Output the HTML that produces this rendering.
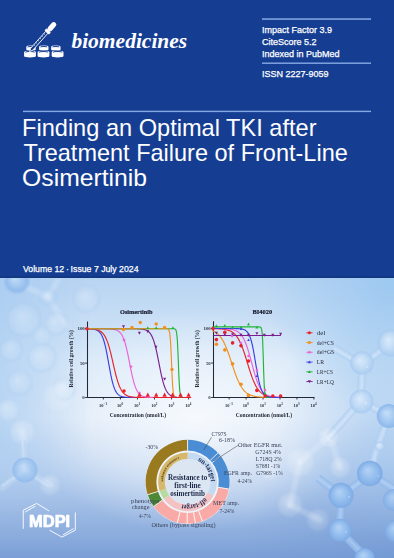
<!DOCTYPE html>
<html><head><meta charset="utf-8"><style>
html,body{margin:0;padding:0;width:394px;height:558px;overflow:hidden;background:#153e93;}
svg{display:block;}
text{font-family:"Liberation Sans",sans-serif;}
</style></head><body>
<svg width="394" height="558" viewBox="0 0 394 558">
<defs>

<linearGradient id="bgv" x1="0" y1="0" x2="0" y2="1">
<stop offset="0" stop-color="#b8d4f2"/>
<stop offset="0.3" stop-color="#d6e7f8"/>
<stop offset="0.5" stop-color="#dbe8f7"/>
<stop offset="0.72" stop-color="#b3cced"/>
<stop offset="1" stop-color="#7b9fd6"/>
</linearGradient>
<radialGradient id="bgw" gradientUnits="userSpaceOnUse" cx="195" cy="420" r="150" gradientTransform="translate(195 420) scale(1.15 0.75) translate(-195 -420)">
<stop offset="0" stop-color="#ffffff" stop-opacity="0.75"/>
<stop offset="0.6" stop-color="#ffffff" stop-opacity="0.35"/>
<stop offset="1" stop-color="#ffffff" stop-opacity="0"/>
</radialGradient>
<radialGradient id="bgtr" gradientUnits="userSpaceOnUse" cx="394" cy="285" r="130">
<stop offset="0" stop-color="#98c6f0" stop-opacity="0.85"/>
<stop offset="1" stop-color="#98c6f0" stop-opacity="0"/>
</radialGradient>
<linearGradient id="bgl" gradientUnits="userSpaceOnUse" x1="0" y1="0" x2="90" y2="0">
<stop offset="0" stop-color="#a2c8f0" stop-opacity="0.6"/>
<stop offset="1" stop-color="#a2c8f0" stop-opacity="0"/>
</linearGradient>
<linearGradient id="bglv" x1="0" y1="0" x2="0" y2="1">
<stop offset="0" stop-color="#fff" stop-opacity="1"/>
<stop offset="0.7" stop-color="#fff" stop-opacity="1"/>
<stop offset="1" stop-color="#fff" stop-opacity="0"/>
</linearGradient>
<mask id="mlv"><rect x="0" y="277" width="90" height="240" fill="url(#bglv)"/></mask>
<radialGradient id="bgrm" gradientUnits="userSpaceOnUse" cx="394" cy="420" r="120">
<stop offset="0" stop-color="#9fc6ef" stop-opacity="0.55"/>
<stop offset="1" stop-color="#9fc6ef" stop-opacity="0"/>
</radialGradient>
<radialGradient id="bgbr" gradientUnits="userSpaceOnUse" cx="394" cy="558" r="150">
<stop offset="0" stop-color="#6a94d2" stop-opacity="0.4"/>
<stop offset="1" stop-color="#6a94d2" stop-opacity="0"/>
</radialGradient>
<radialGradient id="sph" cx="0.5" cy="0.5" r="0.5" fx="0.4" fy="0.36">
<stop offset="0" stop-color="#c6dff8"/>
<stop offset="0.6" stop-color="#a0c6f0"/>
<stop offset="1" stop-color="#86b4ea"/>
</radialGradient>
<radialGradient id="sphd" cx="0.5" cy="0.5" r="0.5" fx="0.42" fy="0.36">
<stop offset="0" stop-color="#b4d3f5"/>
<stop offset="0.55" stop-color="#96bfee"/>
<stop offset="0.9" stop-color="#84b0e8"/>
<stop offset="1" stop-color="#7ea9e2"/>
</radialGradient>
<radialGradient id="sphl" cx="0.5" cy="0.5" r="0.5" fx="0.4" fy="0.36">
<stop offset="0" stop-color="#deecfb"/>
<stop offset="0.6" stop-color="#c0daf5"/>
<stop offset="1" stop-color="#a6c9f0"/>
</radialGradient>
<radialGradient id="sphf" cx="0.5" cy="0.5" r="0.5" fx="0.38" fy="0.34">
<stop offset="0" stop-color="#ffffff" stop-opacity="0.35"/>
<stop offset="1" stop-color="#ffffff" stop-opacity="0.12"/>
</radialGradient>
<radialGradient id="sphg" cx="0.5" cy="0.5" r="0.5" fx="0.42" fy="0.38">
<stop offset="0" stop-color="#ffffff" stop-opacity="0.28"/>
<stop offset="0.75" stop-color="#d6e8fa" stop-opacity="0.18"/>
<stop offset="0.93" stop-color="#9cc4ee" stop-opacity="0.3"/>
<stop offset="1" stop-color="#9cc4ee" stop-opacity="0"/>
</radialGradient>
<filter id="blur1" x="-20%" y="-20%" width="140%" height="140%"><feGaussianBlur stdDeviation="0.7"/></filter>
<filter id="blur2" x="-20%" y="-20%" width="140%" height="140%"><feGaussianBlur stdDeviation="1.2"/></filter>
<linearGradient id="bd1" gradientUnits="userSpaceOnUse" x1="378.88" y1="356.92" x2="374.12" y2="350.48"><stop offset="0" stop-color="#a9cbf0"/><stop offset="0.45" stop-color="#d6e7f9"/><stop offset="1" stop-color="#a9cbf0"/></linearGradient>
<linearGradient id="bd2" gradientUnits="userSpaceOnUse" x1="365.45" y1="382.82" x2="357.45" y2="382.58"><stop offset="0" stop-color="#a9cbf0"/><stop offset="0.45" stop-color="#d6e7f9"/><stop offset="1" stop-color="#a9cbf0"/></linearGradient>
<linearGradient id="bd3" gradientUnits="userSpaceOnUse" x1="376.74" y1="404.98" x2="372.96" y2="412.02"><stop offset="0" stop-color="#a9cbf0"/><stop offset="0.45" stop-color="#d6e7f9"/><stop offset="1" stop-color="#a9cbf0"/></linearGradient>
<linearGradient id="bd4" gradientUnits="userSpaceOnUse" x1="347.75" y1="421.90" x2="341.75" y2="416.60"><stop offset="0" stop-color="#a9cbf0"/><stop offset="0.45" stop-color="#d6e7f9"/><stop offset="1" stop-color="#a9cbf0"/></linearGradient>
<linearGradient id="bd5" gradientUnits="userSpaceOnUse" x1="345.98" y1="359.65" x2="350.02" y2="352.75"><stop offset="0" stop-color="#a9cbf0"/><stop offset="0.45" stop-color="#d6e7f9"/><stop offset="1" stop-color="#a9cbf0"/></linearGradient>
<linearGradient id="bd6" gradientUnits="userSpaceOnUse" x1="386.14" y1="434.41" x2="378.66" y2="431.59"><stop offset="0" stop-color="#a9cbf0"/><stop offset="0.45" stop-color="#d6e7f9"/><stop offset="1" stop-color="#a9cbf0"/></linearGradient>
<linearGradient id="bd7" gradientUnits="userSpaceOnUse" x1="377.10" y1="463.00" x2="369.30" y2="461.20"><stop offset="0" stop-color="#a9cbf0"/><stop offset="0.45" stop-color="#d6e7f9"/><stop offset="1" stop-color="#a9cbf0"/></linearGradient>
<linearGradient id="bd8" gradientUnits="userSpaceOnUse" x1="358.21" y1="488.08" x2="353.49" y2="481.62"><stop offset="0" stop-color="#8db6ea"/><stop offset="0.45" stop-color="#b4d3f5"/><stop offset="1" stop-color="#8db6ea"/></linearGradient>
<linearGradient id="bd9" gradientUnits="userSpaceOnUse" x1="344.34" y1="513.17" x2="336.36" y2="512.73"><stop offset="0" stop-color="#8db6ea"/><stop offset="0.45" stop-color="#b4d3f5"/><stop offset="1" stop-color="#8db6ea"/></linearGradient>
<linearGradient id="bd10" gradientUnits="userSpaceOnUse" x1="384.33" y1="478.21" x2="380.07" y2="484.99"><stop offset="0" stop-color="#8db6ea"/><stop offset="0.45" stop-color="#b4d3f5"/><stop offset="1" stop-color="#8db6ea"/></linearGradient>
<linearGradient id="bd11" gradientUnits="userSpaceOnUse" x1="354.85" y1="540.39" x2="349.15" y2="546.01"><stop offset="0" stop-color="#8db6ea"/><stop offset="0.45" stop-color="#b4d3f5"/><stop offset="1" stop-color="#8db6ea"/></linearGradient>
<linearGradient id="bd12" gradientUnits="userSpaceOnUse" x1="327.25" y1="489.95" x2="332.05" y2="483.55"><stop offset="0" stop-color="#8db6ea"/><stop offset="0.45" stop-color="#b4d3f5"/><stop offset="1" stop-color="#8db6ea"/></linearGradient>
<linearGradient id="bd13" gradientUnits="userSpaceOnUse" x1="21.01" y1="455.23" x2="26.49" y2="454.77"><stop offset="0" stop-color="#a9cbf0"/><stop offset="0.45" stop-color="#d6e7f9"/><stop offset="1" stop-color="#a9cbf0"/></linearGradient>
<linearGradient id="bd14" gradientUnits="userSpaceOnUse" x1="15.07" y1="480.26" x2="11.93" y2="475.74"><stop offset="0" stop-color="#a9cbf0"/><stop offset="0.45" stop-color="#d6e7f9"/><stop offset="1" stop-color="#a9cbf0"/></linearGradient>
<linearGradient id="bd15" gradientUnits="userSpaceOnUse" x1="38.07" y1="475.74" x2="34.93" y2="480.26"><stop offset="0" stop-color="#a9cbf0"/><stop offset="0.45" stop-color="#d6e7f9"/><stop offset="1" stop-color="#a9cbf0"/></linearGradient>
<clipPath id="clipb"><rect x="0" y="278" width="394" height="281"/></clipPath>
</defs>

<rect x="0" y="0" width="394" height="278" fill="#153e93"/>
<rect x="0" y="276.4" width="394" height="1.6" fill="#11377f"/>
<rect x="262" y="18.3" width="109" height="1.5" fill="#86a9e4"/>
<rect x="262" y="62.5" width="109" height="1.4" fill="#86a9e4"/>
<rect x="23" y="110.7" width="348" height="1.4" fill="#86a9e4"/>
<text x="262" y="32.6" font-size="9" fill="#fff" stroke="#fff" stroke-width="0.25">Impact Factor 3.9</text>
<text x="262" y="44.8" font-size="9" fill="#fff" stroke="#fff" stroke-width="0.25">CiteScore 5.2</text>
<text x="262" y="57.1" font-size="9" fill="#fff" stroke="#fff" stroke-width="0.25">Indexed in PubMed</text>
<text x="262" y="77.2" font-size="9" fill="#fff" stroke="#fff" stroke-width="0.25">ISSN 2227-9059</text>
<text x="22.0" y="135.6" font-size="23.2" fill="#fff" textLength="294.5" lengthAdjust="spacingAndGlyphs">Finding an Optimal TKI after</text>
<text x="23.4" y="160.9" font-size="23.2" fill="#fff" textLength="324.4" lengthAdjust="spacingAndGlyphs">Treatment Failure of Front-Line</text>
<text x="22.1" y="186.2" font-size="23.2" fill="#fff" textLength="124.9" lengthAdjust="spacingAndGlyphs">Osimertinib</text>
<text x="23" y="272" font-size="9" fill="#fff" stroke="#fff" stroke-width="0.25" textLength="115.5" lengthAdjust="spacingAndGlyphs">Volume 12&#8201;·&#8201;Issue 7 July 2024</text>
<text x="71.4" y="47.7" font-size="21.5" font-weight="bold" font-style="italic" fill="#fff" style="font-family:'Liberation Serif',serif">biomedicines</text>
<path d="M26.30,47.00 A4.70,1.40 0 0 1 35.70,47.00 L35.70,49.40 A4.70,1.40 0 0 1 26.30,49.40 Z" fill="#153e93" stroke="#153e93" stroke-width="1.4"/><path d="M26.30,47.00 A4.70,1.40 0 0 1 35.70,47.00 L35.70,49.40 A4.70,1.40 0 0 1 26.30,49.40 Z" fill="#fff"/><ellipse cx="31.00" cy="47.00" rx="3.50" ry="0.90" fill="#153e93"/><ellipse cx="31.00" cy="47.85" rx="3.50" ry="0.90" fill="#fff"/>
<path d="M39.10,47.00 A4.70,1.40 0 0 1 48.50,47.00 L48.50,49.40 A4.70,1.40 0 0 1 39.10,49.40 Z" fill="#153e93" stroke="#153e93" stroke-width="1.4"/><path d="M39.10,47.00 A4.70,1.40 0 0 1 48.50,47.00 L48.50,49.40 A4.70,1.40 0 0 1 39.10,49.40 Z" fill="#fff"/><ellipse cx="43.80" cy="47.00" rx="3.50" ry="0.90" fill="#153e93"/><ellipse cx="43.80" cy="47.85" rx="3.50" ry="0.90" fill="#fff"/>
<path d="M51.15,47.00 A4.70,1.40 0 0 1 60.55,47.00 L60.55,49.40 A4.70,1.40 0 0 1 51.15,49.40 Z" fill="#153e93" stroke="#153e93" stroke-width="1.4"/><path d="M51.15,47.00 A4.70,1.40 0 0 1 60.55,47.00 L60.55,49.40 A4.70,1.40 0 0 1 51.15,49.40 Z" fill="#fff"/><ellipse cx="55.85" cy="47.00" rx="3.50" ry="0.90" fill="#153e93"/><ellipse cx="55.85" cy="47.85" rx="3.50" ry="0.90" fill="#fff"/>
<path d="M24.10,52.30 A5.90,1.70 0 0 1 35.90,52.30 L35.90,55.90 A5.90,1.70 0 0 1 24.10,55.90 Z" fill="#153e93" stroke="#153e93" stroke-width="1.4"/><path d="M24.10,52.30 A5.90,1.70 0 0 1 35.90,52.30 L35.90,55.90 A5.90,1.70 0 0 1 24.10,55.90 Z" fill="#fff"/><ellipse cx="30.00" cy="52.30" rx="4.70" ry="1.20" fill="#153e93"/><ellipse cx="30.00" cy="53.15" rx="4.70" ry="1.20" fill="#fff"/>
<path d="M37.60,52.30 A5.90,1.70 0 0 1 49.40,52.30 L49.40,55.90 A5.90,1.70 0 0 1 37.60,55.90 Z" fill="#153e93" stroke="#153e93" stroke-width="1.4"/><path d="M37.60,52.30 A5.90,1.70 0 0 1 49.40,52.30 L49.40,55.90 A5.90,1.70 0 0 1 37.60,55.90 Z" fill="#fff"/><ellipse cx="43.50" cy="52.30" rx="4.70" ry="1.20" fill="#153e93"/><ellipse cx="43.50" cy="53.15" rx="4.70" ry="1.20" fill="#fff"/>
<path d="M51.70,52.30 A5.90,1.70 0 0 1 63.50,52.30 L63.50,55.90 A5.90,1.70 0 0 1 51.70,55.90 Z" fill="#153e93" stroke="#153e93" stroke-width="1.4"/><path d="M51.70,52.30 A5.90,1.70 0 0 1 63.50,52.30 L63.50,55.90 A5.90,1.70 0 0 1 51.70,55.90 Z" fill="#fff"/><ellipse cx="57.60" cy="52.30" rx="4.70" ry="1.20" fill="#153e93"/><ellipse cx="57.60" cy="53.15" rx="4.70" ry="1.20" fill="#fff"/>
<g transform="translate(29.6,51.6) rotate(-48.2)">
<path d="M0,0 L3.2,-1.45 L25.9,-1.45 L25.9,1.45 L3.2,1.45 Z" fill="#153e93" stroke="#fff" stroke-width="0.85" stroke-linejoin="round"/>
<path d="M8,-1.45 L8,0 M11,-1.45 L11,0 M14,-1.45 L14,0 M17,-1.45 L17,0 M20,-1.45 L20,0 M23,-1.45 L23,0" stroke="#fff" stroke-width="0.6"/>
<rect x="25.6" y="-3" width="3" height="6" rx="0.8" fill="#fff"/>
<rect x="28.2" y="-2.5" width="10.6" height="5" rx="2.5" fill="#fff"/>
</g>
<g clip-path="url(#clipb)">
<rect x="0" y="277" width="394" height="281" fill="url(#bgv)"/>
<rect x="0" y="277" width="394" height="281" fill="url(#bgw)"/>
<rect x="0" y="277" width="394" height="281" fill="url(#bgtr)"/>
<rect x="0" y="277" width="90" height="240" fill="url(#bgl)" mask="url(#mlv)"/>
<rect x="0" y="277" width="394" height="281" fill="url(#bgbr)"/>
<rect x="0" y="277" width="394" height="281" fill="url(#bgrm)"/>
<g filter="url(#blur2)">
<path d="M15,282 L48,297" stroke="#ffffff" stroke-width="6" stroke-linecap="round" opacity="0.18"/>
<path d="M48,297 L58,280" stroke="#ffffff" stroke-width="6" stroke-linecap="round" opacity="0.18"/>
<path d="M48,297 L66,325" stroke="#ffffff" stroke-width="6" stroke-linecap="round" opacity="0.18"/>
<path d="M25,470 L22.5,432" stroke="#ffffff" stroke-width="6" stroke-linecap="round" opacity="0.18"/>
<path d="M25,470 L2,488" stroke="#ffffff" stroke-width="6" stroke-linecap="round" opacity="0.18"/>
<path d="M25,470 L50,485" stroke="#ffffff" stroke-width="6" stroke-linecap="round" opacity="0.18"/>
<path d="M329.6,435.8 L300,462" stroke="#ffffff" stroke-width="6" stroke-linecap="round" opacity="0.18"/>
<path d="M300,462 L290,505" stroke="#ffffff" stroke-width="6" stroke-linecap="round" opacity="0.18"/>
<path d="M290,505 L320,520" stroke="#ffffff" stroke-width="6" stroke-linecap="round" opacity="0.18"/>
<path d="M340,467.5 L329.6,435.8" stroke="#ffffff" stroke-width="6" stroke-linecap="round" opacity="0.18"/>
<circle cx="24" cy="320" r="18" fill="url(#sphg)" opacity="1"/>
<circle cx="56" cy="324" r="12" fill="url(#sphg)" opacity="1"/>
<circle cx="42" cy="336" r="10" fill="url(#sphg)" opacity="0.8"/>
<circle cx="11" cy="350" r="12" fill="url(#sphg)" opacity="1"/>
<circle cx="42" cy="358" r="15" fill="url(#sphg)" opacity="1"/>
<circle cx="19.5" cy="383" r="13" fill="url(#sphg)" opacity="1"/>
<circle cx="64" cy="389" r="12" fill="url(#sphg)" opacity="1"/>
<circle cx="86.6" cy="299" r="14" fill="url(#sphg)" opacity="1"/>
<circle cx="22.5" cy="432" r="12" fill="url(#sphf)" opacity="1"/>
<circle cx="57.6" cy="397.5" r="14" fill="url(#sphf)" opacity="0.7"/>
<circle cx="50" cy="485" r="10" fill="url(#sphf)" opacity="1"/>
<circle cx="8" cy="410" r="10" fill="url(#sphf)" opacity="1"/>
<circle cx="340" cy="467.5" r="10" fill="url(#sphf)" opacity="1"/>
<circle cx="300" cy="462" r="14" fill="url(#sphf)" opacity="1"/>
<circle cx="290" cy="505" r="12" fill="url(#sphf)" opacity="1"/>
<circle cx="270" cy="470" r="10" fill="url(#sphf)" opacity="1"/>
<circle cx="318" cy="520" r="11" fill="url(#sphf)" opacity="0.8"/>
</g>
<g filter="url(#blur1)">
<path d="M391,343 L362,364.4" stroke="url(#bd1)" stroke-width="8" opacity="0.7"/>
<path d="M362,364.4 L360.9,401" stroke="url(#bd2)" stroke-width="8" opacity="0.7"/>
<path d="M360.9,401 L388.8,416" stroke="url(#bd3)" stroke-width="8" opacity="0.7"/>
<path d="M360.9,401 L328.6,437.5" stroke="url(#bd4)" stroke-width="8" opacity="0.7"/>
<path d="M362,364.4 L334,348" stroke="url(#bd5)" stroke-width="8" opacity="0.7"/>
<path d="M388.8,416 L376,450" stroke="url(#bd6)" stroke-width="8" opacity="0.7"/>
<path d="M376,450 L370.4,474.2" stroke="url(#bd7)" stroke-width="8" opacity="0.7"/>
<path d="M370.4,474.2 L341.3,495.5" stroke="url(#bd8)" stroke-width="8" opacity="0.75"/>
<path d="M341.3,495.5 L339.4,530.4" stroke="url(#bd9)" stroke-width="8" opacity="0.75"/>
<path d="M370.4,474.2 L394,489" stroke="url(#bd10)" stroke-width="8" opacity="0.75"/>
<path d="M339.4,530.4 L364.6,556" stroke="url(#bd11)" stroke-width="8" opacity="0.75"/>
<path d="M341.3,495.5 L318,478" stroke="url(#bd12)" stroke-width="8" opacity="0.75"/>
<circle cx="391" cy="343" r="13.5" fill="url(#sphl)" opacity="0.9"/>
<circle cx="362" cy="363" r="11.8" fill="url(#sphl)" opacity="0.85"/>
<circle cx="361.5" cy="401.5" r="12" fill="url(#sphl)" opacity="0.85"/>
<circle cx="388.8" cy="416" r="12" fill="url(#sph)" opacity="0.9"/>
<circle cx="328.6" cy="437.5" r="9.7" fill="url(#sphf)" opacity="1"/>
<circle cx="379.8" cy="446.4" r="5" fill="url(#sphl)" opacity="1"/>
<circle cx="369.8" cy="473.5" r="12.8" fill="url(#sphd)" opacity="1"/>
<circle cx="341" cy="495.3" r="12.5" fill="url(#sphd)" opacity="1"/>
<circle cx="340" cy="530.2" r="11.5" fill="url(#sphd)" opacity="1"/>
<circle cx="394" cy="500" r="11" fill="url(#sphd)" opacity="0.8"/>
<circle cx="396" cy="531" r="11" fill="url(#sphd)" opacity="0.9"/>
<circle cx="364.6" cy="558" r="10" fill="url(#sphd)" opacity="1"/>
<ellipse cx="367" cy="367" rx="0.9" ry="0.7200000000000001" fill="#fff" opacity="0.45"/>
<ellipse cx="366" cy="403" rx="0.9" ry="0.7200000000000001" fill="#fff" opacity="0.45"/>
<ellipse cx="378" cy="476" rx="0.9" ry="0.7200000000000001" fill="#fff" opacity="0.45"/>
<ellipse cx="349" cy="497" rx="0.9" ry="0.7200000000000001" fill="#fff" opacity="0.45"/>
<ellipse cx="346" cy="532" rx="0.9" ry="0.7200000000000001" fill="#fff" opacity="0.45"/>
</g>
<g filter="url(#blur2)">
<circle cx="17" cy="281" r="12" fill="url(#sph)" opacity="0.85"/>
<circle cx="48" cy="297" r="9" fill="url(#sphl)" opacity="0.5"/>
</g>
<g filter="url(#blur1)">
<path d="M25,470 L22.5,440" stroke="url(#bd13)" stroke-width="5.5" opacity="0.42"/>
<path d="M25,470 L2,486" stroke="url(#bd14)" stroke-width="5.5" opacity="0.42"/>
<path d="M25,470 L48,486" stroke="url(#bd15)" stroke-width="5.5" opacity="0.42"/>
<circle cx="25" cy="470" r="12.5" fill="url(#sph)" opacity="0.7"/>
</g>
<g>
<path d="M87.5,321.4 L87.5,397.5 L190,397.5" fill="none" stroke="#22273a" stroke-width="1.05"/>
<path d="M85.1,328.7 L87.5,328.7" stroke="#22273a" stroke-width="0.9"/>
<text x="84.8" y="330.4" font-size="4.9" text-anchor="end" fill="#2e3340" font-weight="bold" style="font-family:'Liberation Serif',serif">100</text>
<path d="M85.1,363.1 L87.5,363.1" stroke="#22273a" stroke-width="0.9"/>
<text x="84.8" y="364.8" font-size="4.9" text-anchor="end" fill="#2e3340" font-weight="bold" style="font-family:'Liberation Serif',serif">50</text>
<path d="M85.1,397.5 L87.5,397.5" stroke="#22273a" stroke-width="0.9"/>
<text x="84.8" y="399.2" font-size="4.9" text-anchor="end" fill="#2e3340" font-weight="bold" style="font-family:'Liberation Serif',serif">0</text>
<path d="M103.35000000000001,397.5 L103.35000000000001,399.5" stroke="#22273a" stroke-width="0.9"/>
<text x="103.05000000000001" y="406.7" font-size="4.5" text-anchor="middle" fill="#2e3340" font-weight="bold" style="font-family:'Liberation Serif',serif">10<tspan font-size="3.2" dy="-1.7">−1</tspan></text>
<path d="M120.4,397.5 L120.4,399.5" stroke="#22273a" stroke-width="0.9"/>
<text x="120.10000000000001" y="406.7" font-size="4.5" text-anchor="middle" fill="#2e3340" font-weight="bold" style="font-family:'Liberation Serif',serif">10<tspan font-size="3.2" dy="-1.7">0</tspan></text>
<path d="M137.45000000000002,397.5 L137.45000000000002,399.5" stroke="#22273a" stroke-width="0.9"/>
<text x="137.15" y="406.7" font-size="4.5" text-anchor="middle" fill="#2e3340" font-weight="bold" style="font-family:'Liberation Serif',serif">10<tspan font-size="3.2" dy="-1.7">1</tspan></text>
<path d="M154.5,397.5 L154.5,399.5" stroke="#22273a" stroke-width="0.9"/>
<text x="154.2" y="406.7" font-size="4.5" text-anchor="middle" fill="#2e3340" font-weight="bold" style="font-family:'Liberation Serif',serif">10<tspan font-size="3.2" dy="-1.7">2</tspan></text>
<path d="M171.55,397.5 L171.55,399.5" stroke="#22273a" stroke-width="0.9"/>
<text x="171.25" y="406.7" font-size="4.5" text-anchor="middle" fill="#2e3340" font-weight="bold" style="font-family:'Liberation Serif',serif">10<tspan font-size="3.2" dy="-1.7">3</tspan></text>
<path d="M188.60000000000002,397.5 L188.60000000000002,399.5" stroke="#22273a" stroke-width="0.9"/>
<text x="188.3" y="406.7" font-size="4.5" text-anchor="middle" fill="#2e3340" font-weight="bold" style="font-family:'Liberation Serif',serif">10<tspan font-size="3.2" dy="-1.7">4</tspan></text>
<text x="137.9" y="416.8" font-size="6.1" text-anchor="middle" fill="#232736" font-weight="bold" textLength="56.3" lengthAdjust="spacingAndGlyphs" style="font-family:'Liberation Serif',serif">Concentration (nmol/L)</text>
<text transform="translate(73.3,358.8) rotate(-90)" font-size="6.1" text-anchor="middle" fill="#2a2e3c" font-weight="bold" textLength="57.5" lengthAdjust="spacingAndGlyphs" style="font-family:'Liberation Serif',serif">Relative cell growth (%)</text>
<text x="120" y="313.7" font-size="7.0" fill="#161a2c" stroke="#161a2c" stroke-width="0.22" font-weight="bold" textLength="32.5" lengthAdjust="spacingAndGlyphs" style="font-family:'Liberation Serif',serif">Osimertinib</text>
<path d="M86.30,328.75 L86.71,328.76 L87.12,328.76 L87.54,328.77 L87.95,328.78 L88.36,328.80 L88.77,328.81 L89.18,328.83 L89.60,328.84 L90.01,328.86 L90.42,328.89 L90.83,328.91 L91.24,328.94 L91.66,328.98 L92.07,329.02 L92.48,329.06 L92.89,329.12 L93.30,329.17 L93.72,329.24 L94.13,329.32 L94.54,329.41 L94.95,329.51 L95.36,329.62 L95.78,329.75 L96.19,329.90 L96.60,330.06 L97.01,330.25 L97.43,330.47 L97.84,330.72 L98.25,331.00 L98.66,331.31 L99.07,331.67 L99.49,332.07 L99.90,332.53 L100.31,333.04 L100.72,333.61 L101.13,334.26 L101.55,334.98 L101.96,335.79 L102.37,336.68 L102.78,337.67 L103.19,338.77 L103.61,339.97 L104.02,341.28 L104.43,342.72 L104.84,344.27 L105.25,345.93 L105.67,347.72 L106.08,349.61 L106.49,351.60 L106.90,353.68 L107.31,355.84 L107.73,358.07 L108.14,360.33 L108.55,362.62 L108.96,364.92 L109.37,367.20 L109.79,369.44 L110.20,371.63 L110.61,373.75 L111.02,375.78 L111.43,377.72 L111.85,379.54 L112.26,381.26 L112.67,382.86 L113.08,384.34 L113.49,385.70 L113.91,386.95 L114.32,388.09 L114.73,389.12 L115.14,390.06 L115.55,390.90 L115.97,391.65 L116.38,392.33 L116.79,392.93 L117.20,393.47 L117.62,393.95 L118.03,394.37 L118.44,394.75 L118.85,395.08 L119.26,395.37 L119.68,395.63 L120.09,395.86 L120.50,396.06 L120.91,396.24 L121.32,396.39 L121.74,396.53 L122.15,396.65 L122.56,396.75 L122.97,396.85 L123.38,396.93 L123.80,397.00 L124.21,397.06 L124.62,397.12 L125.03,397.16 L125.44,397.21 L125.86,397.24 L126.27,397.27 L126.68,397.30 L127.09,397.33 L127.50,397.35 L127.92,397.37 L128.33,397.38 L128.74,397.40 L129.15,397.41 L129.56,397.42 L129.98,397.43 L130.39,397.44 L130.80,397.45 L131.21,397.45 L131.62,397.46 L132.04,397.47 L132.45,397.47 L132.86,397.47 L133.27,397.48 L133.68,397.48 L134.10,397.48 L134.51,397.48 L134.92,397.49 L135.33,397.49 L135.75,397.49" fill="none" stroke="#3b3fe0" stroke-width="1.15"/>
<path d="M86.30,328.77 L87.17,328.79 L88.05,328.81 L88.92,328.84 L89.80,328.87 L90.67,328.92 L91.54,328.97 L92.42,329.04 L93.29,329.13 L94.16,329.23 L95.04,329.37 L95.91,329.53 L96.79,329.74 L97.66,329.99 L98.53,330.31 L99.41,330.71 L100.28,331.19 L101.15,331.79 L102.03,332.52 L102.90,333.42 L103.78,334.51 L104.65,335.81 L105.52,337.38 L106.40,339.22 L107.27,341.38 L108.15,343.86 L109.02,346.68 L109.89,349.81 L110.77,353.23 L111.64,356.87 L112.51,360.66 L113.39,364.51 L114.26,368.33 L115.14,372.02 L116.01,375.50 L116.88,378.71 L117.76,381.61 L118.63,384.19 L119.50,386.43 L120.38,388.36 L121.25,389.99 L122.13,391.37 L123.00,392.51 L123.87,393.45 L124.75,394.23 L125.62,394.86 L126.50,395.37 L127.37,395.79 L128.24,396.13 L129.12,396.40 L129.99,396.62 L130.86,396.79 L131.74,396.93 L132.61,397.05 L133.49,397.14 L134.36,397.21 L135.23,397.27 L136.11,397.31 L136.98,397.35 L137.85,397.38 L138.73,397.41 L139.60,397.42 L140.48,397.44 L141.35,397.45 L142.22,397.46 L143.10,397.47 L143.97,397.48 L144.85,397.48 L145.72,397.48 L146.59,397.49 L147.47,397.49 L148.34,397.49 L149.21,397.49 L150.09,397.49 L150.96,397.50 L151.84,397.50 L152.71,397.50 L153.58,397.50 L154.46,397.50 L155.33,397.50 L156.20,397.50 L157.08,397.50 L157.95,397.50 L158.83,397.50 L159.70,397.50 L160.57,397.50 L161.45,397.50 L162.32,397.50 L163.20,397.50 L164.07,397.50 L164.94,397.50 L165.82,397.50 L166.69,397.50 L167.56,397.50 L168.44,397.50 L169.31,397.50 L170.19,397.50 L171.06,397.50 L171.93,397.50 L172.81,397.50 L173.68,397.50 L174.56,397.50 L175.43,397.50 L176.30,397.50 L177.18,397.50 L178.05,397.50 L178.92,397.50 L179.80,397.50 L180.67,397.50 L181.55,397.50 L182.42,397.50 L183.29,397.50 L184.17,397.50 L185.04,397.50 L185.91,397.50 L186.79,397.50 L187.66,397.50 L188.54,397.50 L189.41,397.50 L190.28,397.50 L191.16,397.50" fill="none" stroke="#e8212b" stroke-width="1.15"/>
<path d="M86.30,328.70 L86.85,328.70 L87.41,328.70 L87.96,328.70 L88.52,328.70 L89.07,328.70 L89.62,328.70 L90.18,328.70 L90.73,328.70 L91.29,328.70 L91.84,328.70 L92.40,328.70 L92.95,328.70 L93.50,328.70 L94.06,328.70 L94.61,328.70 L95.17,328.70 L95.72,328.70 L96.27,328.70 L96.83,328.70 L97.38,328.70 L97.94,328.71 L98.49,328.71 L99.04,328.71 L99.60,328.71 L100.15,328.71 L100.71,328.71 L101.26,328.72 L101.82,328.72 L102.37,328.72 L102.92,328.72 L103.48,328.73 L104.03,328.73 L104.59,328.74 L105.14,328.75 L105.69,328.76 L106.25,328.77 L106.80,328.78 L107.36,328.79 L107.91,328.81 L108.47,328.83 L109.02,328.85 L109.57,328.88 L110.13,328.91 L110.68,328.95 L111.24,328.99 L111.79,329.04 L112.34,329.11 L112.90,329.18 L113.45,329.26 L114.01,329.36 L114.56,329.48 L115.11,329.62 L115.67,329.78 L116.22,329.97 L116.78,330.19 L117.33,330.45 L117.89,330.75 L118.44,331.11 L118.99,331.52 L119.55,332.00 L120.10,332.56 L120.66,333.20 L121.21,333.94 L121.76,334.80 L122.32,335.78 L122.87,336.89 L123.43,338.16 L123.98,339.58 L124.53,341.18 L125.09,342.95 L125.64,344.90 L126.20,347.03 L126.75,349.32 L127.31,351.78 L127.86,354.36 L128.41,357.06 L128.97,359.84 L129.52,362.66 L130.08,365.49 L130.63,368.29 L131.18,371.02 L131.74,373.64 L132.29,376.14 L132.85,378.48 L133.40,380.67 L133.95,382.67 L134.51,384.50 L135.06,386.14 L135.62,387.62 L136.17,388.93 L136.73,390.09 L137.28,391.11 L137.83,392.01 L138.39,392.78 L138.94,393.46 L139.50,394.04 L140.05,394.54 L140.60,394.97 L141.16,395.35 L141.71,395.66 L142.27,395.94 L142.82,396.17 L143.37,396.37 L143.93,396.54 L144.48,396.68 L145.04,396.80 L145.59,396.91 L146.15,397.00 L146.70,397.07 L147.25,397.14 L147.81,397.19 L148.36,397.24 L148.92,397.28 L149.47,397.31 L150.02,397.34 L150.58,397.36 L151.13,397.39 L151.69,397.40 L152.24,397.42 L152.80,397.43" fill="none" stroke="#ec5fd6" stroke-width="1.15"/>
<path d="M86.30,328.70 L87.05,328.70 L87.81,328.70 L88.56,328.70 L89.31,328.70 L90.07,328.70 L90.82,328.70 L91.57,328.70 L92.32,328.70 L93.08,328.70 L93.83,328.70 L94.58,328.70 L95.34,328.70 L96.09,328.70 L96.84,328.70 L97.60,328.70 L98.35,328.70 L99.10,328.70 L99.85,328.70 L100.61,328.70 L101.36,328.70 L102.11,328.70 L102.87,328.70 L103.62,328.70 L104.37,328.70 L105.13,328.70 L105.88,328.70 L106.63,328.70 L107.39,328.70 L108.14,328.70 L108.89,328.70 L109.64,328.70 L110.40,328.70 L111.15,328.70 L111.90,328.70 L112.66,328.70 L113.41,328.70 L114.16,328.70 L114.92,328.70 L115.67,328.70 L116.42,328.70 L117.17,328.70 L117.93,328.70 L118.68,328.70 L119.43,328.70 L120.19,328.70 L120.94,328.70 L121.69,328.70 L122.45,328.70 L123.20,328.70 L123.95,328.70 L124.71,328.70 L125.46,328.70 L126.21,328.70 L126.96,328.71 L127.72,328.71 L128.47,328.71 L129.22,328.71 L129.98,328.71 L130.73,328.72 L131.48,328.72 L132.24,328.72 L132.99,328.73 L133.74,328.74 L134.49,328.75 L135.25,328.76 L136.00,328.78 L136.75,328.79 L137.51,328.82 L138.26,328.85 L139.01,328.88 L139.77,328.93 L140.52,328.99 L141.27,329.06 L142.03,329.15 L142.78,329.26 L143.53,329.40 L144.28,329.57 L145.04,329.79 L145.79,330.06 L146.54,330.39 L147.30,330.80 L148.05,331.31 L148.80,331.93 L149.56,332.70 L150.31,333.63 L151.06,334.75 L151.81,336.11 L152.57,337.72 L153.32,339.62 L154.07,341.84 L154.83,344.38 L155.58,347.25 L156.33,350.44 L157.09,353.89 L157.84,357.56 L158.59,361.36 L159.35,365.20 L160.10,369.00 L160.85,372.65 L161.60,376.08 L162.36,379.23 L163.11,382.07 L163.86,384.58 L164.62,386.77 L165.37,388.64 L166.12,390.23 L166.88,391.56 L167.63,392.67 L168.38,393.58 L169.13,394.33 L169.89,394.94 L170.64,395.44 L171.39,395.84 L172.15,396.17 L172.90,396.43 L173.65,396.64 L174.41,396.81 L175.16,396.95 L175.91,397.06 L176.67,397.15" fill="none" stroke="#7a1f8f" stroke-width="1.15"/>
<path d="M86.30,328.70 L87.10,328.70 L87.90,328.70 L88.70,328.70 L89.49,328.70 L90.29,328.70 L91.09,328.70 L91.89,328.70 L92.69,328.70 L93.49,328.70 L94.29,328.70 L95.08,328.70 L95.88,328.70 L96.68,328.70 L97.48,328.70 L98.28,328.70 L99.08,328.70 L99.87,328.70 L100.67,328.70 L101.47,328.70 L102.27,328.70 L103.07,328.70 L103.87,328.70 L104.67,328.70 L105.46,328.70 L106.26,328.70 L107.06,328.70 L107.86,328.70 L108.66,328.70 L109.46,328.70 L110.26,328.70 L111.05,328.70 L111.85,328.70 L112.65,328.70 L113.45,328.70 L114.25,328.70 L115.05,328.70 L115.84,328.70 L116.64,328.70 L117.44,328.70 L118.24,328.70 L119.04,328.70 L119.84,328.70 L120.64,328.70 L121.43,328.70 L122.23,328.70 L123.03,328.70 L123.83,328.70 L124.63,328.70 L125.43,328.70 L126.23,328.70 L127.02,328.70 L127.82,328.70 L128.62,328.70 L129.42,328.70 L130.22,328.70 L131.02,328.70 L131.81,328.70 L132.61,328.70 L133.41,328.70 L134.21,328.70 L135.01,328.70 L135.81,328.70 L136.61,328.70 L137.40,328.70 L138.20,328.70 L139.00,328.70 L139.80,328.70 L140.60,328.70 L141.40,328.70 L142.20,328.70 L142.99,328.70 L143.79,328.70 L144.59,328.70 L145.39,328.70 L146.19,328.70 L146.99,328.70 L147.79,328.70 L148.58,328.70 L149.38,328.70 L150.18,328.70 L150.98,328.70 L151.78,328.70 L152.58,328.70 L153.37,328.70 L154.17,328.70 L154.97,328.70 L155.77,328.70 L156.57,328.70 L157.37,328.70 L158.17,328.70 L158.96,328.70 L159.76,328.70 L160.56,328.70 L161.36,328.70 L162.16,328.70 L162.96,328.70 L163.76,328.70 L164.55,328.70 L165.35,328.70 L166.15,328.70 L166.95,328.70 L167.75,328.70 L168.55,328.70 L169.34,328.70 L170.14,328.70 L170.94,328.70 L171.74,328.70 L172.54,328.71 L173.34,328.72 L174.14,328.77 L174.93,328.96 L175.73,329.65 L176.53,332.03 L177.33,339.46 L178.13,356.45 L178.93,377.65 L179.73,390.62 L180.52,395.47 L181.32,396.93 L182.12,397.34" fill="none" stroke="#22b43a" stroke-width="1.15"/>
<path d="M86.30,328.70 L87.04,328.70 L87.78,328.70 L88.52,328.70 L89.26,328.70 L89.99,328.70 L90.73,328.70 L91.47,328.70 L92.21,328.70 L92.95,328.70 L93.69,328.70 L94.43,328.70 L95.17,328.70 L95.90,328.70 L96.64,328.70 L97.38,328.70 L98.12,328.70 L98.86,328.70 L99.60,328.70 L100.34,328.70 L101.08,328.70 L101.82,328.70 L102.55,328.70 L103.29,328.70 L104.03,328.70 L104.77,328.70 L105.51,328.70 L106.25,328.70 L106.99,328.70 L107.73,328.70 L108.47,328.70 L109.20,328.70 L109.94,328.70 L110.68,328.70 L111.42,328.70 L112.16,328.70 L112.90,328.70 L113.64,328.70 L114.38,328.70 L115.11,328.70 L115.85,328.70 L116.59,328.70 L117.33,328.70 L118.07,328.70 L118.81,328.70 L119.55,328.70 L120.29,328.70 L121.03,328.70 L121.76,328.70 L122.50,328.70 L123.24,328.70 L123.98,328.70 L124.72,328.70 L125.46,328.70 L126.20,328.70 L126.94,328.70 L127.67,328.70 L128.41,328.70 L129.15,328.70 L129.89,328.70 L130.63,328.70 L131.37,328.70 L132.11,328.70 L132.85,328.70 L133.59,328.70 L134.32,328.70 L135.06,328.70 L135.80,328.70 L136.54,328.70 L137.28,328.70 L138.02,328.70 L138.76,328.70 L139.50,328.70 L140.23,328.70 L140.97,328.70 L141.71,328.70 L142.45,328.70 L143.19,328.70 L143.93,328.70 L144.67,328.70 L145.41,328.70 L146.15,328.70 L146.88,328.70 L147.62,328.70 L148.36,328.70 L149.10,328.70 L149.84,328.70 L150.58,328.70 L151.32,328.70 L152.06,328.70 L152.80,328.70 L153.53,328.70 L154.27,328.70 L155.01,328.70 L155.75,328.70 L156.49,328.70 L157.23,328.70 L157.97,328.70 L158.71,328.70 L159.44,328.70 L160.18,328.70 L160.92,328.70 L161.66,328.70 L162.40,328.70 L163.14,328.70 L163.88,328.70 L164.62,328.70 L165.36,328.71 L166.09,328.72 L166.83,328.76 L167.57,328.89 L168.31,329.25 L169.05,330.34 L169.79,333.38 L170.53,341.05 L171.27,355.95 L172.00,374.29 L172.74,387.51 L173.48,393.81 L174.22,396.22 L174.96,397.07" fill="none" stroke="#f0901e" stroke-width="1.15"/>
<circle cx="123.5" cy="329.5" r="1.7" fill="#f0901e"/>
<circle cx="132" cy="327.5" r="1.7" fill="#f0901e"/>
<circle cx="140.3" cy="322.5" r="1.7" fill="#f0901e"/>
<circle cx="156.2" cy="324" r="1.7" fill="#f0901e"/>
<circle cx="164.6" cy="327.5" r="1.7" fill="#f0901e"/>
<circle cx="172" cy="369.4" r="1.7" fill="#f0901e"/>
<path d="M123.5,328.15 L125.0,325.3 L122.0,325.3 Z" fill="#7a1f8f"/>
<path d="M139.4,334.65 L140.9,331.8 L137.9,331.8 Z" fill="#7a1f8f"/>
<path d="M147.8,333.15 L149.3,330.3 L146.3,330.3 Z" fill="#7a1f8f"/>
<path d="M156,348.65 L157.5,345.8 L154.5,345.8 Z" fill="#7a1f8f"/>
<path d="M164.6,380.65 L166.1,377.8 L163.1,377.8 Z" fill="#7a1f8f"/>
<path d="M147.8,326.15000000000003 L149.3,329.0 L146.3,329.0 Z" fill="#22b43a"/>
<path d="M156.2,326.15000000000003 L157.7,329.0 L154.7,329.0 Z" fill="#22b43a"/>
<path d="M172.9,326.15000000000003 L174.4,329.0 L171.4,329.0 Z" fill="#22b43a"/>
<path d="M181,393.85 L182.5,396.7 L179.5,396.7 Z" fill="#22b43a"/>
<path d="M122.5,340 L125.5,340 M124,338.5 L124,341.5 M122.95,338.95 L125.05,341.05 M122.95,341.05 L125.05,338.95" stroke="#ec5fd6" stroke-width="0.7"/>
<path d="M129.5,366.6 L132.5,366.6 M131,365.1 L131,368.1 M129.95,365.55 L132.05,367.65000000000003 M129.95,367.65000000000003 L132.05,365.55" stroke="#ec5fd6" stroke-width="0.7"/>
<path d="M137.9,393 L140.9,393 M139.4,391.5 L139.4,394.5 M138.35,391.95 L140.45000000000002,394.05 M138.35,394.05 L140.45000000000002,391.95" stroke="#ec5fd6" stroke-width="0.7"/>
<circle cx="87" cy="328.7" r="1.8" fill="#e8212b"/>
<circle cx="124" cy="391" r="1.8" fill="#e8212b"/>
<path d="M139.4,392.58 L141.6,396.76 L137.20000000000002,396.76 Z" fill="#e8212b"/>
<path d="M147.8,392.58 L150.0,396.76 L145.60000000000002,396.76 Z" fill="#e8212b"/>
<path d="M156.2,392.58 L158.39999999999998,396.76 L154.0,396.76 Z" fill="#e8212b"/>
<path d="M164.6,392.58 L166.79999999999998,396.76 L162.4,396.76 Z" fill="#e8212b"/>
<path d="M172.5,392.58 L174.7,396.76 L170.3,396.76 Z" fill="#e8212b"/>
<path d="M180.5,392.58 L182.7,396.76 L178.3,396.76 Z" fill="#e8212b"/>
<path d="M188.6,392.58 L190.79999999999998,396.76 L186.4,396.76 Z" fill="#e8212b"/>
<path d="M213.5,321.2 L213.5,397.5 L314.5,397.5" fill="none" stroke="#22273a" stroke-width="1.05"/>
<path d="M211.1,328.5 L213.5,328.5" stroke="#22273a" stroke-width="0.9"/>
<text x="210.8" y="330.2" font-size="4.9" text-anchor="end" fill="#2e3340" font-weight="bold" style="font-family:'Liberation Serif',serif">100</text>
<path d="M211.1,363.0 L213.5,363.0" stroke="#22273a" stroke-width="0.9"/>
<text x="210.8" y="364.7" font-size="4.9" text-anchor="end" fill="#2e3340" font-weight="bold" style="font-family:'Liberation Serif',serif">50</text>
<path d="M211.1,397.5 L213.5,397.5" stroke="#22273a" stroke-width="0.9"/>
<text x="210.8" y="399.2" font-size="4.9" text-anchor="end" fill="#2e3340" font-weight="bold" style="font-family:'Liberation Serif',serif">0</text>
<path d="M229.15,397.5 L229.15,399.5" stroke="#22273a" stroke-width="0.9"/>
<text x="228.85" y="406.7" font-size="4.5" text-anchor="middle" fill="#2e3340" font-weight="bold" style="font-family:'Liberation Serif',serif">10<tspan font-size="3.2" dy="-1.7">−1</tspan></text>
<path d="M246.1,397.5 L246.1,399.5" stroke="#22273a" stroke-width="0.9"/>
<text x="245.79999999999998" y="406.7" font-size="4.5" text-anchor="middle" fill="#2e3340" font-weight="bold" style="font-family:'Liberation Serif',serif">10<tspan font-size="3.2" dy="-1.7">0</tspan></text>
<path d="M263.05,397.5 L263.05,399.5" stroke="#22273a" stroke-width="0.9"/>
<text x="262.75" y="406.7" font-size="4.5" text-anchor="middle" fill="#2e3340" font-weight="bold" style="font-family:'Liberation Serif',serif">10<tspan font-size="3.2" dy="-1.7">1</tspan></text>
<path d="M280.0,397.5 L280.0,399.5" stroke="#22273a" stroke-width="0.9"/>
<text x="279.7" y="406.7" font-size="4.5" text-anchor="middle" fill="#2e3340" font-weight="bold" style="font-family:'Liberation Serif',serif">10<tspan font-size="3.2" dy="-1.7">2</tspan></text>
<path d="M296.95,397.5 L296.95,399.5" stroke="#22273a" stroke-width="0.9"/>
<text x="296.65" y="406.7" font-size="4.5" text-anchor="middle" fill="#2e3340" font-weight="bold" style="font-family:'Liberation Serif',serif">10<tspan font-size="3.2" dy="-1.7">3</tspan></text>
<path d="M313.9,397.5 L313.9,399.5" stroke="#22273a" stroke-width="0.9"/>
<text x="313.59999999999997" y="406.7" font-size="4.5" text-anchor="middle" fill="#2e3340" font-weight="bold" style="font-family:'Liberation Serif',serif">10<tspan font-size="3.2" dy="-1.7">4</tspan></text>
<text x="264.0" y="416.8" font-size="6.1" text-anchor="middle" fill="#232736" font-weight="bold" textLength="56.3" lengthAdjust="spacingAndGlyphs" style="font-family:'Liberation Serif',serif">Concentration (nmol/L)</text>
<text transform="translate(199.3,358.8) rotate(-90)" font-size="6.1" text-anchor="middle" fill="#2a2e3c" font-weight="bold" textLength="57.5" lengthAdjust="spacingAndGlyphs" style="font-family:'Liberation Serif',serif">Relative cell growth (%)</text>
<text x="252.5" y="313.7" font-size="7.0" fill="#161a2c" stroke="#161a2c" stroke-width="0.22" font-weight="bold" textLength="19.7" lengthAdjust="spacingAndGlyphs" style="font-family:'Liberation Serif',serif">BI4020</text>
<path d="M212.20,330.64 L212.65,330.81 L213.10,331.00 L213.56,331.19 L214.01,331.41 L214.46,331.64 L214.91,331.89 L215.36,332.15 L215.82,332.44 L216.27,332.75 L216.72,333.08 L217.17,333.43 L217.62,333.81 L218.08,334.21 L218.53,334.65 L218.98,335.11 L219.43,335.60 L219.88,336.13 L220.34,336.68 L220.79,337.28 L221.24,337.91 L221.69,338.58 L222.14,339.28 L222.60,340.03 L223.05,340.82 L223.50,341.64 L223.95,342.51 L224.40,343.43 L224.86,344.38 L225.31,345.38 L225.76,346.42 L226.21,347.50 L226.66,348.61 L227.12,349.77 L227.57,350.96 L228.02,352.19 L228.47,353.45 L228.92,354.73 L229.38,356.04 L229.83,357.37 L230.28,358.72 L230.73,360.08 L231.18,361.45 L231.64,362.83 L232.09,364.20 L232.54,365.58 L232.99,366.94 L233.44,368.29 L233.90,369.63 L234.35,370.94 L234.80,372.24 L235.25,373.50 L235.70,374.73 L236.16,375.93 L236.61,377.10 L237.06,378.23 L237.51,379.32 L237.96,380.37 L238.42,381.37 L238.87,382.34 L239.32,383.26 L239.77,384.14 L240.22,384.98 L240.68,385.78 L241.13,386.53 L241.58,387.25 L242.03,387.93 L242.48,388.57 L242.94,389.17 L243.39,389.74 L243.84,390.27 L244.29,390.77 L244.74,391.24 L245.20,391.68 L245.65,392.09 L246.10,392.48 L246.55,392.84 L247.00,393.17 L247.46,393.48 L247.91,393.78 L248.36,394.05 L248.81,394.30 L249.26,394.53 L249.72,394.75 L250.17,394.96 L250.62,395.14 L251.07,395.32 L251.52,395.48 L251.98,395.63 L252.43,395.77 L252.88,395.90 L253.33,396.02 L253.78,396.13 L254.24,396.24 L254.69,396.33 L255.14,396.42 L255.59,396.50 L256.04,396.58 L256.50,396.65 L256.95,396.71 L257.40,396.77 L257.85,396.83 L258.30,396.88 L258.76,396.93 L259.21,396.97 L259.66,397.01 L260.11,397.05 L260.56,397.08 L261.02,397.11 L261.47,397.14 L261.92,397.17 L262.37,397.20 L262.82,397.22 L263.28,397.24 L263.73,397.26 L264.18,397.28 L264.63,397.30 L265.08,397.31 L265.54,397.33 L265.99,397.34 L266.44,397.35" fill="none" stroke="#f0901e" stroke-width="1.15"/>
<path d="M212.20,328.58 L212.76,328.59 L213.33,328.60 L213.89,328.62 L214.46,328.63 L215.03,328.64 L215.59,328.66 L216.16,328.68 L216.72,328.70 L217.28,328.72 L217.85,328.75 L218.41,328.77 L218.98,328.81 L219.54,328.84 L220.11,328.88 L220.68,328.92 L221.24,328.97 L221.81,329.02 L222.37,329.08 L222.94,329.14 L223.50,329.22 L224.06,329.30 L224.63,329.39 L225.19,329.49 L225.76,329.60 L226.32,329.72 L226.89,329.85 L227.45,330.00 L228.02,330.17 L228.59,330.36 L229.15,330.56 L229.72,330.79 L230.28,331.03 L230.84,331.31 L231.41,331.61 L231.97,331.95 L232.54,332.32 L233.10,332.73 L233.67,333.17 L234.23,333.66 L234.80,334.20 L235.37,334.79 L235.93,335.43 L236.50,336.13 L237.06,336.89 L237.62,337.72 L238.19,338.61 L238.75,339.57 L239.32,340.61 L239.88,341.72 L240.45,342.90 L241.01,344.17 L241.58,345.51 L242.14,346.92 L242.71,348.41 L243.28,349.96 L243.84,351.58 L244.41,353.26 L244.97,354.99 L245.53,356.77 L246.10,358.58 L246.66,360.41 L247.23,362.26 L247.79,364.11 L248.36,365.96 L248.92,367.79 L249.49,369.59 L250.06,371.36 L250.62,373.08 L251.19,374.75 L251.75,376.35 L252.31,377.90 L252.88,379.37 L253.44,380.77 L254.01,382.09 L254.57,383.34 L255.14,384.51 L255.70,385.61 L256.27,386.63 L256.83,387.57 L257.40,388.45 L257.96,389.27 L258.53,390.01 L259.09,390.70 L259.66,391.33 L260.23,391.91 L260.79,392.44 L261.36,392.92 L261.92,393.36 L262.49,393.76 L263.05,394.12 L263.62,394.45 L264.18,394.75 L264.75,395.02 L265.31,395.26 L265.88,395.48 L266.44,395.68 L267.00,395.86 L267.57,396.03 L268.13,396.17 L268.70,396.31 L269.26,396.43 L269.83,396.53 L270.39,396.63 L270.96,396.72 L271.52,396.80 L272.09,396.87 L272.65,396.93 L273.22,396.99 L273.78,397.04 L274.35,397.09 L274.92,397.13 L275.48,397.17 L276.05,397.20 L276.61,397.23 L277.18,397.26 L277.74,397.28 L278.31,397.31 L278.87,397.32 L279.44,397.34 L280.00,397.36" fill="none" stroke="#e8212b" stroke-width="1.15"/>
<path d="M212.20,328.51 L212.76,328.51 L213.33,328.52 L213.89,328.52 L214.46,328.52 L215.03,328.52 L215.59,328.53 L216.16,328.53 L216.72,328.53 L217.28,328.54 L217.85,328.54 L218.41,328.55 L218.98,328.56 L219.54,328.56 L220.11,328.57 L220.68,328.58 L221.24,328.59 L221.81,328.60 L222.37,328.62 L222.94,328.63 L223.50,328.65 L224.06,328.67 L224.63,328.69 L225.19,328.72 L225.76,328.75 L226.32,328.78 L226.89,328.81 L227.45,328.85 L228.02,328.90 L228.59,328.95 L229.15,329.01 L229.72,329.08 L230.28,329.15 L230.84,329.23 L231.41,329.33 L231.97,329.44 L232.54,329.56 L233.10,329.69 L233.67,329.85 L234.23,330.02 L234.80,330.21 L235.37,330.43 L235.93,330.67 L236.50,330.95 L237.06,331.25 L237.62,331.60 L238.19,331.98 L238.75,332.41 L239.32,332.89 L239.88,333.42 L240.45,334.01 L241.01,334.67 L241.58,335.39 L242.14,336.19 L242.71,337.07 L243.28,338.04 L243.84,339.10 L244.41,340.24 L244.97,341.49 L245.53,342.83 L246.10,344.28 L246.66,345.82 L247.23,347.46 L247.79,349.20 L248.36,351.02 L248.92,352.92 L249.49,354.89 L250.06,356.92 L250.62,358.99 L251.19,361.10 L251.75,363.21 L252.31,365.33 L252.88,367.42 L253.44,369.49 L254.01,371.51 L254.57,373.46 L255.14,375.35 L255.70,377.15 L256.27,378.87 L256.83,380.49 L257.40,382.02 L257.96,383.44 L258.53,384.77 L259.09,385.99 L259.66,387.12 L260.23,388.16 L260.79,389.11 L261.36,389.97 L261.92,390.76 L262.49,391.47 L263.05,392.11 L263.62,392.69 L264.18,393.21 L264.75,393.68 L265.31,394.10 L265.88,394.48 L266.44,394.81 L267.00,395.11 L267.57,395.38 L268.13,395.62 L268.70,395.83 L269.26,396.02 L269.83,396.19 L270.39,396.34 L270.96,396.47 L271.52,396.59 L272.09,396.69 L272.65,396.78 L273.22,396.86 L273.78,396.94 L274.35,397.00 L274.92,397.06 L275.48,397.11 L276.05,397.15 L276.61,397.19 L277.18,397.23 L277.74,397.26 L278.31,397.29 L278.87,397.31 L279.44,397.33 L280.00,397.35" fill="none" stroke="#ec5fd6" stroke-width="1.15"/>
<path d="M212.20,326.91 L212.69,326.91 L213.19,326.91 L213.68,326.91 L214.18,326.91 L214.67,326.91 L215.17,326.91 L215.66,326.91 L216.16,326.91 L216.65,326.91 L217.14,326.91 L217.64,326.91 L218.13,326.91 L218.63,326.91 L219.12,326.91 L219.62,326.91 L220.11,326.91 L220.60,326.91 L221.10,326.91 L221.59,326.91 L222.09,326.91 L222.58,326.91 L223.08,326.91 L223.57,326.91 L224.06,326.91 L224.56,326.91 L225.05,326.91 L225.55,326.91 L226.04,326.91 L226.54,326.91 L227.03,326.91 L227.53,326.91 L228.02,326.91 L228.51,326.91 L229.01,326.91 L229.50,326.91 L230.00,326.91 L230.49,326.91 L230.99,326.91 L231.48,326.91 L231.97,326.91 L232.47,326.91 L232.96,326.91 L233.46,326.91 L233.95,326.91 L234.45,326.91 L234.94,326.91 L235.44,326.91 L235.93,326.91 L236.42,326.91 L236.92,326.91 L237.41,326.91 L237.91,326.91 L238.40,326.91 L238.90,326.91 L239.39,326.91 L239.88,326.91 L240.38,326.91 L240.87,326.91 L241.37,326.91 L241.86,326.91 L242.36,326.91 L242.85,326.91 L243.35,326.91 L243.84,326.91 L244.33,326.91 L244.83,326.91 L245.32,326.91 L245.82,326.91 L246.31,326.91 L246.81,326.91 L247.30,326.91 L247.79,326.91 L248.29,326.91 L248.78,326.91 L249.28,326.91 L249.77,326.91 L250.27,326.91 L250.76,326.91 L251.26,326.91 L251.75,326.91 L252.24,326.91 L252.74,326.91 L253.23,326.91 L253.73,326.91 L254.22,326.91 L254.72,326.91 L255.21,326.91 L255.70,326.91 L256.20,326.91 L256.69,326.91 L257.19,326.91 L257.68,326.91 L258.18,326.92 L258.67,326.92 L259.17,326.94 L259.66,326.97 L260.15,327.06 L260.65,327.30 L261.14,327.89 L261.64,329.35 L262.13,332.83 L262.63,340.32 L263.12,353.39 L263.62,369.68 L264.11,383.20 L264.60,391.13 L265.10,394.87 L265.59,396.45 L266.09,397.09 L266.58,397.34 L267.08,397.44 L267.57,397.48 L268.06,397.49 L268.56,397.50 L269.05,397.50 L269.55,397.50 L270.04,397.50 L270.54,397.50 L271.03,397.50 L271.52,397.50" fill="none" stroke="#22b43a" stroke-width="1.15"/>
<path d="M212.20,328.50 L212.76,328.50 L213.33,328.50 L213.89,328.50 L214.46,328.50 L215.03,328.50 L215.59,328.50 L216.16,328.50 L216.72,328.50 L217.28,328.50 L217.85,328.50 L218.41,328.50 L218.98,328.50 L219.54,328.50 L220.11,328.50 L220.68,328.50 L221.24,328.50 L221.81,328.50 L222.37,328.50 L222.94,328.50 L223.50,328.50 L224.06,328.50 L224.63,328.50 L225.19,328.50 L225.76,328.50 L226.32,328.50 L226.89,328.50 L227.45,328.50 L228.02,328.50 L228.59,328.50 L229.15,328.51 L229.72,328.51 L230.28,328.51 L230.84,328.51 L231.41,328.51 L231.97,328.52 L232.54,328.52 L233.10,328.52 L233.67,328.53 L234.23,328.54 L234.80,328.54 L235.37,328.55 L235.93,328.57 L236.50,328.58 L237.06,328.60 L237.62,328.62 L238.19,328.65 L238.75,328.68 L239.32,328.72 L239.88,328.77 L240.45,328.83 L241.01,328.90 L241.58,328.99 L242.14,329.09 L242.71,329.22 L243.28,329.38 L243.84,329.57 L244.41,329.80 L244.97,330.08 L245.53,330.42 L246.10,330.83 L246.66,331.33 L247.23,331.92 L247.79,332.63 L248.36,333.48 L248.92,334.48 L249.49,335.67 L250.06,337.05 L250.62,338.66 L251.19,340.52 L251.75,342.63 L252.31,345.00 L252.88,347.63 L253.44,350.51 L254.01,353.60 L254.57,356.87 L255.14,360.25 L255.70,363.69 L256.27,367.11 L256.83,370.45 L257.40,373.66 L257.96,376.67 L258.53,379.45 L259.09,381.98 L259.66,384.25 L260.23,386.26 L260.79,388.01 L261.36,389.53 L261.92,390.83 L262.49,391.94 L263.05,392.88 L263.62,393.67 L264.18,394.33 L264.75,394.88 L265.31,395.34 L265.88,395.72 L266.44,396.04 L267.00,396.30 L267.57,396.51 L268.13,396.69 L268.70,396.83 L269.26,396.95 L269.83,397.05 L270.39,397.13 L270.96,397.20 L271.52,397.25 L272.09,397.30 L272.65,397.33 L273.22,397.36 L273.78,397.39 L274.35,397.41 L274.92,397.43 L275.48,397.44 L276.05,397.45 L276.61,397.46 L277.18,397.47 L277.74,397.47 L278.31,397.48 L278.87,397.48 L279.44,397.48 L280.00,397.49" fill="none" stroke="#3b3fe0" stroke-width="1.15"/>
<path d="M213.5,335.5 L280.84749999999997,335.5" stroke="#7a1f8f" stroke-width="1"/>
<path d="M216.4,324.35 L217.9,327.2 L214.9,327.2 Z" fill="#22b43a"/>
<path d="M224.8,323.95000000000005 L226.3,326.8 L223.3,326.8 Z" fill="#22b43a"/>
<path d="M232.6,325.65000000000003 L234.1,328.5 L231.1,328.5 Z" fill="#22b43a"/>
<path d="M241,325.65000000000003 L242.5,328.5 L239.5,328.5 Z" fill="#22b43a"/>
<path d="M248.5,322.55 L250.0,325.4 L247.0,325.4 Z" fill="#22b43a"/>
<path d="M256.9,325.65000000000003 L258.4,328.5 L255.39999999999998,328.5 Z" fill="#22b43a"/>
<path d="M265,392.35 L266.5,395.2 L263.5,395.2 Z" fill="#22b43a"/>
<path d="M216.4,334.65 L217.9,331.8 L214.9,331.8 Z" fill="#7a1f8f"/>
<path d="M224.8,336.15 L226.3,333.3 L223.3,333.3 Z" fill="#7a1f8f"/>
<path d="M232.6,336.15 L234.1,333.3 L231.1,333.3 Z" fill="#7a1f8f"/>
<path d="M241,336.65 L242.5,333.8 L239.5,333.8 Z" fill="#7a1f8f"/>
<path d="M248.5,336.65 L250.0,333.8 L247.0,333.8 Z" fill="#7a1f8f"/>
<path d="M256.9,335.04999999999995 L258.4,332.2 L255.39999999999998,332.2 Z" fill="#7a1f8f"/>
<path d="M264.4,336.65 L265.9,333.8 L262.9,333.8 Z" fill="#7a1f8f"/>
<path d="M272.8,336.65 L274.3,333.8 L271.3,333.8 Z" fill="#7a1f8f"/>
<path d="M280.6,335.65 L282.1,332.8 L279.1,332.8 Z" fill="#7a1f8f"/>
<path d="M230.5,336 L233.5,336 M232,334.5 L232,337.5 M230.95,334.95 L233.05,337.05 M230.95,337.05 L233.05,334.95" stroke="#ec5fd6" stroke-width="0.7"/>
<path d="M239.5,343 L242.5,343 M241,341.5 L241,344.5 M239.95,341.95 L242.05,344.05 M239.95,344.05 L242.05,341.95" stroke="#ec5fd6" stroke-width="0.7"/>
<path d="M247.0,356 L250.0,356 M248.5,354.5 L248.5,357.5 M247.45,354.95 L249.55,357.05 M247.45,357.05 L249.55,354.95" stroke="#ec5fd6" stroke-width="0.7"/>
<path d="M255.39999999999998,370 L258.4,370 M256.9,368.5 L256.9,371.5 M255.84999999999997,368.95 L257.95,371.05 M255.84999999999997,371.05 L257.95,368.95" stroke="#ec5fd6" stroke-width="0.7"/>
<path d="M263.5,390 L266.5,390 M265,388.5 L265,391.5 M263.95,388.95 L266.05,391.05 M263.95,391.05 L266.05,388.95" stroke="#ec5fd6" stroke-width="0.7"/>
<path d="M241,327.57 L242.3,330.04 L239.7,330.04 Z" fill="#3b3fe0"/>
<path d="M248.5,338.57 L249.8,341.04 L247.2,341.04 Z" fill="#3b3fe0"/>
<path d="M256.9,374.57 L258.2,377.04 L255.59999999999997,377.04 Z" fill="#3b3fe0"/>
<circle cx="216.4" cy="344.3" r="1.8" fill="#f0901e"/>
<circle cx="224.8" cy="349.9" r="1.8" fill="#f0901e"/>
<circle cx="232.6" cy="363.9" r="1.8" fill="#f0901e"/>
<circle cx="241" cy="384.2" r="1.8" fill="#f0901e"/>
<circle cx="248.5" cy="395.4" r="1.8" fill="#f0901e"/>
<circle cx="213" cy="328.5" r="1.8" fill="#e8212b"/>
<circle cx="216.4" cy="339.6" r="1.8" fill="#e8212b"/>
<circle cx="224.8" cy="332.3" r="1.8" fill="#e8212b"/>
<circle cx="232.6" cy="342.9" r="1.8" fill="#e8212b"/>
<circle cx="241" cy="345.7" r="1.8" fill="#e8212b"/>
<circle cx="248.5" cy="361" r="1.8" fill="#e8212b"/>
<circle cx="256.9" cy="390.4" r="1.8" fill="#e8212b"/>
<circle cx="265.2" cy="396" r="1.8" fill="#e8212b"/>
<circle cx="272.8" cy="396" r="1.8" fill="#e8212b"/>
<circle cx="280.6" cy="396" r="1.8" fill="#e8212b"/>
<path d="M306.3,332.8 L312.6,332.8" stroke="#e8212b" stroke-width="0.9"/>
<circle cx="309.4" cy="332.8" r="1.5" fill="#e8212b"/>
<text x="316.8" y="334.90000000000003" font-size="6.3" fill="#262a38" textLength="8.6" lengthAdjust="spacingAndGlyphs" style="font-family:'Liberation Serif',serif">del</text>
<path d="M306.3,342.55 L312.6,342.55" stroke="#f0901e" stroke-width="0.9"/>
<circle cx="309.4" cy="342.55" r="1.5" fill="#f0901e"/>
<text x="316.8" y="344.65000000000003" font-size="6.3" fill="#262a38" textLength="17.0" lengthAdjust="spacingAndGlyphs" style="font-family:'Liberation Serif',serif">del+CS</text>
<path d="M306.3,352.3 L312.6,352.3" stroke="#ec5fd6" stroke-width="0.9"/>
<path d="M307.9,352.3 L310.9,352.3 M309.4,350.8 L309.4,353.8 M308.34999999999997,351.25 L310.45,353.35 M308.34999999999997,353.35 L310.45,351.25" stroke="#ec5fd6" stroke-width="0.7"/>
<text x="316.8" y="354.40000000000003" font-size="6.3" fill="#262a38" textLength="17.4" lengthAdjust="spacingAndGlyphs" style="font-family:'Liberation Serif',serif">del+GS</text>
<path d="M306.3,362.05 L312.6,362.05" stroke="#3b3fe0" stroke-width="0.9"/>
<path d="M309.4,360.40000000000003 L310.9,363.25 L307.9,363.25 Z" fill="#3b3fe0"/>
<text x="316.8" y="364.15000000000003" font-size="6.3" fill="#262a38" textLength="7.4" lengthAdjust="spacingAndGlyphs" style="font-family:'Liberation Serif',serif">LR</text>
<path d="M306.3,371.8 L312.6,371.8" stroke="#22b43a" stroke-width="0.9"/>
<path d="M309.4,370.15000000000003 L310.9,373.0 L307.9,373.0 Z" fill="#22b43a"/>
<text x="316.8" y="373.90000000000003" font-size="6.3" fill="#262a38" textLength="16.0" lengthAdjust="spacingAndGlyphs" style="font-family:'Liberation Serif',serif">LR+CS</text>
<path d="M306.3,381.55 L312.6,381.55" stroke="#7a1f8f" stroke-width="0.9"/>
<path d="M309.4,383.2 L310.9,380.35 L307.9,380.35 Z" fill="#7a1f8f"/>
<text x="316.8" y="383.65000000000003" font-size="6.3" fill="#262a38" textLength="17.0" lengthAdjust="spacingAndGlyphs" style="font-family:'Liberation Serif',serif">LR+LQ</text>
<circle cx="187.6" cy="481.8" r="42.4" fill="#eef3fa"/>
<circle cx="187.6" cy="481.8" r="22.8" fill="#dce6f3"/>
<path d="M187.60,439.80 A42.0,42.0 0 0 1 228.96,489.09 L218.33,487.22 A31.2,31.2 0 0 0 187.60,450.60 Z" fill="#4b8dd4"/>
<path d="M228.96,489.09 A42.0,42.0 0 0 1 153.62,506.49 L162.36,500.14 A31.2,31.2 0 0 0 218.33,487.22 Z" fill="#f9aaa6"/>
<path d="M153.62,506.49 A42.0,42.0 0 0 1 147.66,494.78 L157.93,491.44 A31.2,31.2 0 0 0 162.36,500.14 Z" fill="#4e8a36"/>
<path d="M147.66,494.78 A42.0,42.0 0 0 1 187.60,439.80 L187.60,450.60 A31.2,31.2 0 0 0 157.93,491.44 Z" fill="#9a7a1f"/>
<path d="M187.60,452.40 A29.4,29.4 0 0 1 213.56,495.60 L207.73,492.50 A22.8,22.8 0 0 0 187.60,459.00 Z" fill="#c4daf1"/>
<path d="M213.56,495.60 A29.4,29.4 0 0 1 163.81,499.08 L169.15,495.20 A22.8,22.8 0 0 0 207.73,492.50 Z" fill="#f3c3c4"/>
<path d="M163.81,499.08 A29.4,29.4 0 0 1 159.64,490.89 L165.92,488.85 A22.8,22.8 0 0 0 169.15,495.20 Z" fill="#b6daa0"/>
<path d="M159.64,490.89 A29.4,29.4 0 0 1 187.60,452.40 L187.60,459.00 A22.8,22.8 0 0 0 165.92,488.85 Z" fill="#d6b86c"/>
<path d="M187.60,450.60 L187.60,439.80" stroke="#ffffff" stroke-width="0.8"/>
<path d="M210.23,460.32 L218.07,452.89" stroke="#ffffff" stroke-width="0.8"/>
<path d="M212.19,462.59 L220.70,455.94" stroke="#ffffff" stroke-width="0.8"/>
<path d="M218.33,487.22 L228.96,489.09" stroke="#ffffff" stroke-width="0.8"/>
<path d="M157.93,491.44 L147.66,494.78" stroke="#ffffff" stroke-width="0.8"/>
<path d="M162.36,500.14 L153.62,506.49" stroke="#ffffff" stroke-width="0.8"/>
<path d="M198.58,511.01 L202.38,521.11" stroke="#ffffff" stroke-width="0.9"/>
<path d="M193.45,512.45 L195.47,523.06" stroke="#ffffff" stroke-width="0.9"/>
<path d="M187.27,513.00 L187.16,523.80" stroke="#ffffff" stroke-width="0.9"/>
<path d="M180.00,512.06 L177.37,522.53" stroke="#ffffff" stroke-width="0.9"/>
<defs><path id="onT" d="M197.77,460.95 A23.2,23.2 0 0 1 209.40,489.73" fill="none"/><path id="offT" d="M204.57,497.62 A23.2,23.2 0 0 1 174.29,500.80" fill="none"/><path id="unkT" d="M163.00,481.37 A24.6,24.6 0 0 1 184.18,457.44" fill="none"/></defs>
<text font-size="7.6" font-weight="bold" fill="#1c2750" style="font-family:'Liberation Serif',serif"><textPath href="#onT" textLength="25.5" lengthAdjust="spacingAndGlyphs">on-target</textPath></text>
<text font-size="7.6" font-weight="bold" fill="#1c2750" style="font-family:'Liberation Serif',serif"><textPath href="#offT" textLength="24.5" lengthAdjust="spacingAndGlyphs">off-target</textPath></text>
<text font-size="3.5" font-weight="bold" fill="#4a3808" style="font-family:'Liberation Serif',serif"><textPath href="#unkT">unknown resistance</textPath></text>
<text x="187.6" y="480.2" font-size="7.9" font-weight="bold" text-anchor="middle" fill="#1c2748" textLength="39.2" lengthAdjust="spacingAndGlyphs" style="font-family:'Liberation Serif',serif">Resistance to</text>
<text x="187.6" y="488.0" font-size="7.9" font-weight="bold" text-anchor="middle" fill="#1c2748" textLength="26.5" lengthAdjust="spacingAndGlyphs" style="font-family:'Liberation Serif',serif">first-line</text>
<text x="187.6" y="495.8" font-size="7.9" font-weight="bold" text-anchor="middle" fill="#1c2748" textLength="34.5" lengthAdjust="spacingAndGlyphs" style="font-family:'Liberation Serif',serif">osimertinib</text>
<text x="211.4" y="436.4" font-size="6.3" fill="#363f58" textLength="15.2" lengthAdjust="spacingAndGlyphs" style="font-family:'Liberation Serif',serif">C797S</text>
<text x="219" y="442.2" font-size="6.3" fill="#363f58" textLength="16" lengthAdjust="spacingAndGlyphs" style="font-family:'Liberation Serif',serif">6-18%</text>
<text x="238" y="446.5" font-size="6.3" fill="#363f58" textLength="44.5" lengthAdjust="spacingAndGlyphs" style="font-family:'Liberation Serif',serif">Other EGFR mut.</text>
<text x="255.3" y="453.6" font-size="6.3" fill="#363f58" textLength="25.69999999999999" lengthAdjust="spacingAndGlyphs" style="font-family:'Liberation Serif',serif">G724S 4%</text>
<text x="255.8" y="460.5" font-size="6.3" fill="#363f58" textLength="25.899999999999977" lengthAdjust="spacingAndGlyphs" style="font-family:'Liberation Serif',serif">L718Q 2%</text>
<text x="255.8" y="467.6" font-size="6.3" fill="#363f58" textLength="24.399999999999977" lengthAdjust="spacingAndGlyphs" style="font-family:'Liberation Serif',serif">S768I -1%</text>
<text x="256.3" y="474.5" font-size="6.3" fill="#363f58" textLength="26.399999999999977" lengthAdjust="spacingAndGlyphs" style="font-family:'Liberation Serif',serif">G796S -1%</text>
<text x="224" y="475.2" font-size="6.3" fill="#363f58" textLength="28" lengthAdjust="spacingAndGlyphs" style="font-family:'Liberation Serif',serif">EGFR amp.</text>
<text x="237.6" y="483.3" font-size="6.3" fill="#363f58" textLength="14.4" lengthAdjust="spacingAndGlyphs" style="font-family:'Liberation Serif',serif">4-24%</text>
<text x="213.1" y="504.5" font-size="6.3" fill="#363f58" textLength="26" lengthAdjust="spacingAndGlyphs" style="font-family:'Liberation Serif',serif">MET amp.</text>
<text x="219.6" y="512.9" font-size="6.3" fill="#363f58" textLength="14.8" lengthAdjust="spacingAndGlyphs" style="font-family:'Liberation Serif',serif">7-24%</text>
<text x="151.5" y="527.3" font-size="6.3" fill="#363f58" textLength="64" lengthAdjust="spacingAndGlyphs" style="font-family:'Liberation Serif',serif">Others (bypass signaling)</text>
<text x="131" y="503" font-size="6.3" fill="#363f58" textLength="28.2" lengthAdjust="spacingAndGlyphs" style="font-family:'Liberation Serif',serif">phenotype</text>
<text x="131.8" y="509.3" font-size="6.3" fill="#363f58" textLength="17.7" lengthAdjust="spacingAndGlyphs" style="font-family:'Liberation Serif',serif">change</text>
<text x="139" y="517.8" font-size="6.3" fill="#363f58" textLength="11.6" lengthAdjust="spacingAndGlyphs" style="font-family:'Liberation Serif',serif">4-7%</text>
<text x="145.5" y="449.3" font-size="6.3" fill="#363f58" textLength="12.5" lengthAdjust="spacingAndGlyphs" style="font-family:'Liberation Serif',serif">-30%</text>
<path d="M211.5,437.2 L203.8,449.8" stroke="#3a3a3a" stroke-width="0.5"/>
<path d="M238.3,445.2 L213.8,461" stroke="#3a3a3a" stroke-width="0.5"/>
</g>
</g>
<g fill="none" stroke="#fff" stroke-width="0.9">
<path d="M49.2,511 L36.65,503.4 L23.25,510.2 L23.25,528.8"/>
<path d="M35.4,506.1 L24.8,512.2"/>
<path d="M49.5,530.2 L62,537.1 L75.3,530.2 L75.3,512.5"/>
<path d="M62.8,534.9 L73.6,528.6"/>
</g>
<text x="29.0" y="526.6" font-size="16" font-weight="bold" fill="#fff" stroke="#fff" stroke-width="0.7" stroke-linejoin="round" textLength="41.2" lengthAdjust="spacingAndGlyphs">MDPI</text>
</svg></body></html>
